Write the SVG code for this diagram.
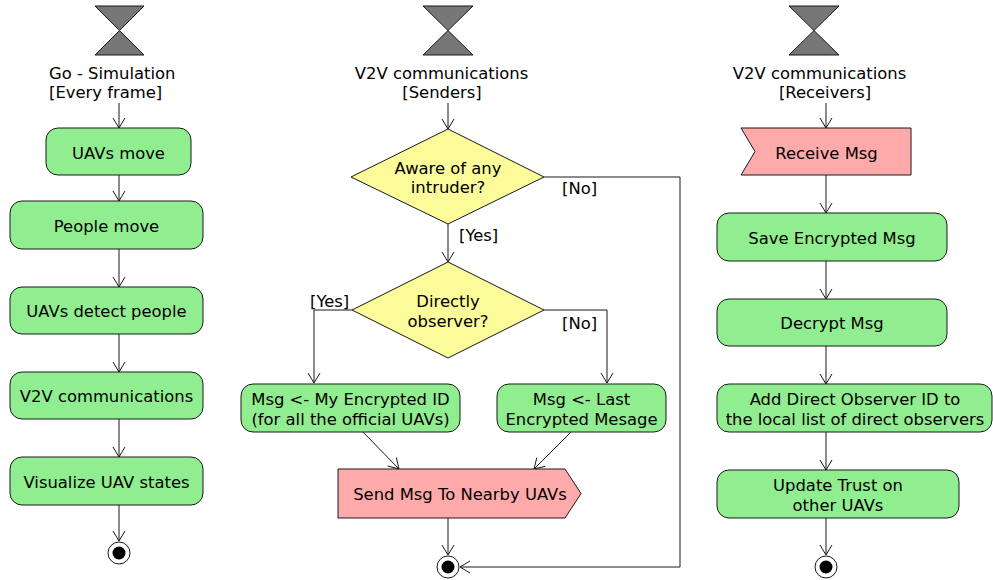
<svg xmlns="http://www.w3.org/2000/svg" width="993" height="580" viewBox="0 0 993 580">
<style>
text{font-family:"DejaVu Sans","Liberation Sans",sans-serif;font-size:16.4px;fill:#000}
.m{text-anchor:middle}
.act{fill:#90EE90;stroke:#181818;stroke-width:1}
.dec{fill:#FBFB9A;stroke:#181818;stroke-width:1}
.sig{fill:#FFAAAA;stroke:#181818;stroke-width:1}
.hg{fill:#777777;stroke:#181818;stroke-width:1}
.endo{fill:#fff;stroke:#181818;stroke-width:1}
.endi{fill:#000}
.c{fill:none;stroke:#181818;stroke-width:1}
</style>
<defs>
<marker id="a" viewBox="-12 -8 14 16" markerWidth="14" markerHeight="16" refX="0" refY="0" orient="auto" markerUnits="userSpaceOnUse">
<path d="M-10,-6 L0,0 L-10,6" fill="none" stroke="#181818" stroke-width="1"/>
</marker>
</defs>

<g id="connectors">
<line class="c" x1="119" y1="103" x2="119" y2="128" marker-end="url(#a)"/>
<line class="c" x1="119" y1="175" x2="119" y2="201" marker-end="url(#a)"/>
<line class="c" x1="119" y1="249" x2="119" y2="287" marker-end="url(#a)"/>
<line class="c" x1="119" y1="334" x2="119" y2="372" marker-end="url(#a)"/>
<line class="c" x1="119" y1="419" x2="119" y2="457" marker-end="url(#a)"/>
<line class="c" x1="119" y1="505" x2="119" y2="541" marker-end="url(#a)"/>

<line class="c" x1="448" y1="103" x2="448" y2="129" marker-end="url(#a)"/>
<line class="c" x1="448" y1="224" x2="448" y2="262" marker-end="url(#a)"/>
<polyline class="c" points="352,310 314,310 314,383" marker-end="url(#a)"/>
<polyline class="c" points="544,310 607,310 607,383" marker-end="url(#a)"/>
<line class="c" x1="363" y1="432" x2="399" y2="469" marker-end="url(#a)"/>
<line class="c" x1="571" y1="432" x2="534" y2="469" marker-end="url(#a)"/>
<line class="c" x1="448" y1="518" x2="448" y2="555" marker-end="url(#a)"/>
<polyline class="c" points="544,177 680,177 680,567 460,567" marker-end="url(#a)"/>

<line class="c" x1="826" y1="103" x2="826" y2="128" marker-end="url(#a)"/>
<line class="c" x1="826" y1="175" x2="826" y2="213" marker-end="url(#a)"/>
<line class="c" x1="826" y1="261" x2="826" y2="299" marker-end="url(#a)"/>
<line class="c" x1="826" y1="346" x2="826" y2="384" marker-end="url(#a)"/>
<line class="c" x1="826" y1="432" x2="826" y2="470" marker-end="url(#a)"/>
<line class="c" x1="826" y1="518" x2="826" y2="555" marker-end="url(#a)"/>

<text x="459" y="241">[Yes]</text>
<text x="562" y="194">[No]</text>
<text x="310" y="307">[Yes]</text>
<text x="562" y="329">[No]</text>
</g>

<!-- Column 1 -->
<g id="start1">
<polygon class="hg" points="95,6 144,6 119.5,30.5"/>
<polygon class="hg" points="119.5,30.5 95,55 144,55"/>
<text x="49" y="79">Go - Simulation</text>
<text x="49" y="98">[Every frame]</text>
</g>
<g id="uavsMove">
<rect class="act" x="46" y="128" width="145" height="47" rx="12"/>
<text class="m" x="118.5" y="159">UAVs move</text>
</g>
<g id="peopleMove">
<rect class="act" x="10" y="201" width="193" height="48" rx="12"/>
<text class="m" x="106.5" y="232">People move</text>
</g>
<g id="uavsDetect">
<rect class="act" x="10" y="287" width="193" height="47" rx="12"/>
<text class="m" x="106.5" y="317">UAVs detect people</text>
</g>
<g id="v2vComm">
<rect class="act" x="10" y="372" width="193" height="47" rx="12"/>
<text class="m" x="106.5" y="402">V2V communications</text>
</g>
<g id="visualize">
<rect class="act" x="10" y="457" width="193" height="48" rx="12"/>
<text class="m" x="106.5" y="488">Visualize UAV states</text>
</g>
<g id="end1">
<circle class="endo" cx="119" cy="553" r="11"/>
<circle class="endi" cx="119" cy="553" r="6.5"/>
</g>

<!-- Column 2 -->
<g id="start2">
<polygon class="hg" points="423,6 473,6 448,30.5"/>
<polygon class="hg" points="448,30.5 423,55 473,55"/>
<text class="m" x="441.5" y="79">V2V communications</text>
<text class="m" x="442" y="98">[Senders]</text>
</g>
<g id="aware">
<polygon class="dec" points="351,177 448,129 544,177 448,224"/>
<text class="m" x="448" y="174">Aware of any</text>
<text class="m" x="448" y="193">intruder?</text>
</g>
<g id="directly">
<polygon class="dec" points="352,310 448,262 544,310 448,358"/>
<text class="m" x="448" y="307">Directly</text>
<text class="m" x="448" y="327">observer?</text>
</g>
<g id="myId">
<rect class="act" x="241" y="384" width="219" height="48" rx="12"/>
<text class="m" x="350.5" y="405">Msg &lt;- My Encrypted ID</text>
<text class="m" x="350.5" y="425">(for all the official UAVs)</text>
</g>
<g id="lastMsg">
<rect class="act" x="497" y="384" width="169" height="48" rx="12"/>
<text class="m" x="581.5" y="405">Msg &lt;- Last</text>
<text class="m" x="581.5" y="425">Encrypted Mesage</text>
</g>
<g id="send">
<polygon class="sig" points="338,469 565,469 581,493.5 565,518 338,518"/>
<text class="m" x="460" y="500">Send Msg To Nearby UAVs</text>
</g>
<g id="end2">
<circle class="endo" cx="448" cy="567" r="11"/>
<circle class="endi" cx="448" cy="567" r="6.5"/>
</g>

<!-- Column 3 -->
<g id="start3">
<polygon class="hg" points="789,6 839,6 814,30.5"/>
<polygon class="hg" points="814,30.5 789,55 839,55"/>
<text class="m" x="819.5" y="79">V2V communications</text>
<text class="m" x="825" y="98">[Receivers]</text>
</g>
<g id="receive">
<polygon class="sig" points="741,128 911,128 911,175 741,175 755,151.5"/>
<text class="m" x="826.5" y="159">Receive Msg</text>
</g>
<g id="save">
<rect class="act" x="717" y="213" width="230" height="48" rx="12"/>
<text class="m" x="832" y="244">Save Encrypted Msg</text>
</g>
<g id="decrypt">
<rect class="act" x="717" y="299" width="230" height="47" rx="12"/>
<text class="m" x="832" y="329">Decrypt Msg</text>
</g>
<g id="addObs">
<rect class="act" x="717" y="384" width="275" height="48" rx="12"/>
<text class="m" x="855" y="405">Add Direct Observer ID to</text>
<text class="m" x="855" y="425">the local list of direct observers</text>
</g>
<g id="trust">
<rect class="act" x="717" y="470" width="242" height="48" rx="12"/>
<text class="m" x="838" y="491">Update Trust on</text>
<text class="m" x="838" y="511">other UAVs</text>
</g>
<g id="end3">
<circle class="endo" cx="826" cy="567" r="11"/>
<circle class="endi" cx="826" cy="567" r="6.5"/>
</g>
</svg>
